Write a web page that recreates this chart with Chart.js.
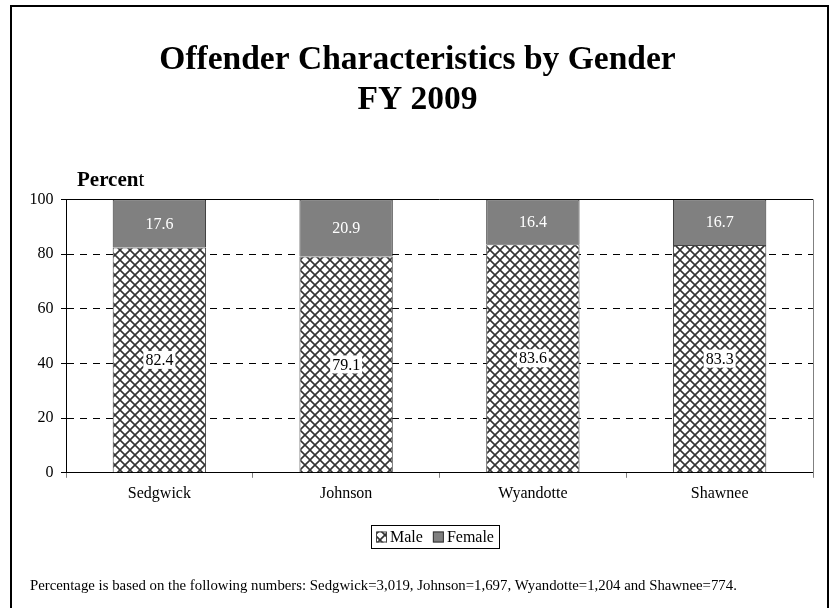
<!DOCTYPE html>
<html>
<head>
<meta charset="utf-8">
<script src="https://cdn.jsdelivr.net/npm/chart.js@4/dist/chart.umd.min.js"></script>
<style>
html, body { margin: 0; padding: 0; background: #fff; }
#wrap { width: 830px; height: 608px; }
</style>
</head>
<body>
<div id="wrap"><canvas id="myChart"></canvas></div>
<script>
const counties = ['Sedgwick', 'Johnson', 'Wyandotte', 'Shawnee'];
const male = [82.4, 79.1, 83.6, 83.3];
const female = [17.6, 20.9, 16.4, 16.7];
const yTicks = [0, 20, 40, 60, 80, 100];
const footnote = 'Percentage is based on the following numbers: Sedgwick=3,019, Johnson=1,697, Wyandotte=1,204 and Shawnee=774.';

const serif = '"Liberation Serif", "Times New Roman", serif';

// crosshatch fill like the old excel chart
function makeHatch() {
    const c = document.createElement('canvas');
    c.width = 10;
    c.height = 10;
    const g = c.getContext('2d');
    g.fillStyle = '#fff';
    g.fillRect(0, 0, 10, 10);
    g.strokeStyle = '#333';
    g.lineWidth = 1.6;
    g.beginPath();
    g.moveTo(-1, -1); g.lineTo(11, 11);
    g.moveTo(11, -1); g.lineTo(-1, 11);
    g.stroke();
    return g.createPattern(c, 'repeat');
}

const barLabels = {
    id: 'barLabels',
    afterDatasetsDraw(chart) {
        const ctx = chart.ctx;
        ctx.save();
        ctx.font = '16px ' + serif;
        ctx.textAlign = 'center';
        ctx.textBaseline = 'middle';
        chart.data.datasets.forEach((ds, i) => {
            chart.getDatasetMeta(i).data.forEach((bar, j) => {
                const txt = ds.data[j].toFixed(1);
                const cy = (bar.y + bar.base) / 2;
                if (i === 0) {
                    const w = ctx.measureText(txt).width;
                    ctx.fillStyle = '#fff';
                    ctx.fillRect(bar.x - w / 2 - 2, cy - 9, w + 4, 18);
                    ctx.fillStyle = '#000';
                } else {
                    ctx.fillStyle = '#fff';
                }
                ctx.fillText(txt, bar.x, cy + 1);
            });
        });
        ctx.restore();
    }
};

const extras = {
    id: 'extras',
    afterDraw(chart) {
        const ctx = chart.ctx;
        const a = chart.chartArea;
        ctx.save();
        // plot frame: solid top, grey right side
        ctx.strokeStyle = '#000';
        ctx.lineWidth = 1;
        ctx.beginPath();
        ctx.moveTo(a.left, Math.round(a.top) + 0.5);
        ctx.lineTo(a.right, Math.round(a.top) + 0.5);
        ctx.stroke();
        ctx.strokeStyle = '#808080';
        ctx.beginPath();
        ctx.moveTo(Math.round(a.right) + 0.5, a.top);
        ctx.lineTo(Math.round(a.right) + 0.5, a.bottom + 4);
        ctx.stroke();

        // axis title, last letter not bold
        ctx.fillStyle = '#000';
        ctx.textBaseline = 'alphabetic';
        ctx.textAlign = 'left';
        ctx.font = 'bold 21px ' + serif;
        ctx.fillText('Percen', 77, 186);
        const w = ctx.measureText('Percen').width;
        ctx.font = '21px ' + serif;
        ctx.fillText('t', 77 + w, 186);

        // legend with frame
        ctx.font = '16px ' + serif;
        ctx.textBaseline = 'middle';
        const ds = chart.data.datasets;
        const box = 11, gap = 3, itemGap = 10, pad = 5;
        let total = pad * 2;
        ds.forEach((d, i) => {
            total += box + gap + ctx.measureText(d.label).width + (i ? itemGap : 0);
        });
        const cy = 537;
        let x = Math.round((a.left + a.right) / 2 - 5 - total / 2);
        ctx.strokeStyle = '#000';
        ctx.lineWidth = 1;
        ctx.strokeRect(x + 0.5, cy - 11.5, Math.round(total), 23);
        x += pad;
        ds.forEach((d, i) => {
            if (i) x += itemGap;
            ctx.fillStyle = d.backgroundColor;
            ctx.fillRect(x, cy - box / 2, box, box);
            ctx.strokeStyle = d.borderColor;
            ctx.strokeRect(x + 0.5, cy - box / 2 + 0.5, box - 1, box - 1);
            x += box + gap;
            ctx.fillStyle = '#000';
            ctx.fillText(d.label, x, cy + 1);
            x += ctx.measureText(d.label).width;
        });

        // footnote
        ctx.font = '14.8px ' + serif;
        ctx.fillStyle = '#000';
        ctx.textBaseline = 'alphabetic';
        ctx.fillText(footnote, 30, 590);

        // outer border
        ctx.strokeStyle = '#000';
        ctx.lineWidth = 2;
        ctx.strokeRect(11, 6, 817, 620);
        ctx.restore();
    }
};

function chartGender() {
    const ctx = document.getElementById('myChart');
    const hatch = makeHatch();

    new Chart(ctx, {
        type: 'bar',
        data: {
            labels: counties,
            datasets: [{
                label: 'Male',
                data: male,
                backgroundColor: hatch,
                borderColor: '#444',
                borderWidth: 1
            }, {
                label: 'Female',
                data: female,
                backgroundColor: '#808080',
                borderColor: '#333',
                borderWidth: 1
            }]
        },
        options: {
            responsive: true,
            maintainAspectRatio: false,
            animation: false,
            categoryPercentage: 1,
            barPercentage: 0.5,
            layout: {
                padding: { left: 22, right: 17, top: 0, bottom: 99 }
            },
            scales: {
                x: {
                    stacked: true,
                    grid: { display: true, drawOnChartArea: false, color: '#808080', tickLength: 5, offset: true },
                    border: { color: '#000', width: 1 },
                    ticks: { color: '#000', font: { family: serif, size: 16 }, padding: 6 }
                },
                y: {
                    stacked: true,
                    min: 0,
                    max: 100,
                    afterBuildTicks(axis) {
                        axis.ticks = yTicks.map(v => ({ value: v }));
                    },
                    grid: { color: '#000', tickLength: 5, lineWidth: 1 },
                    border: { color: '#000', width: 1, dash: [7, 6] },
                    ticks: { color: '#000', font: { family: serif, size: 16 }, padding: 7.5 }
                }
            },
            plugins: {
                title: {
                    display: true,
                    text: ['Offender Characteristics by Gender', 'FY 2009'],
                    color: '#000',
                    font: { family: serif, size: 33.5, weight: 'bold', lineHeight: 1.2 },
                    padding: { top: 40, bottom: 79 }
                },
                legend: { display: false },
                tooltip: { enabled: false }
            }
        },
        plugins: [barLabels, extras]
    });
}

chartGender();
</script>
</body>
</html>
